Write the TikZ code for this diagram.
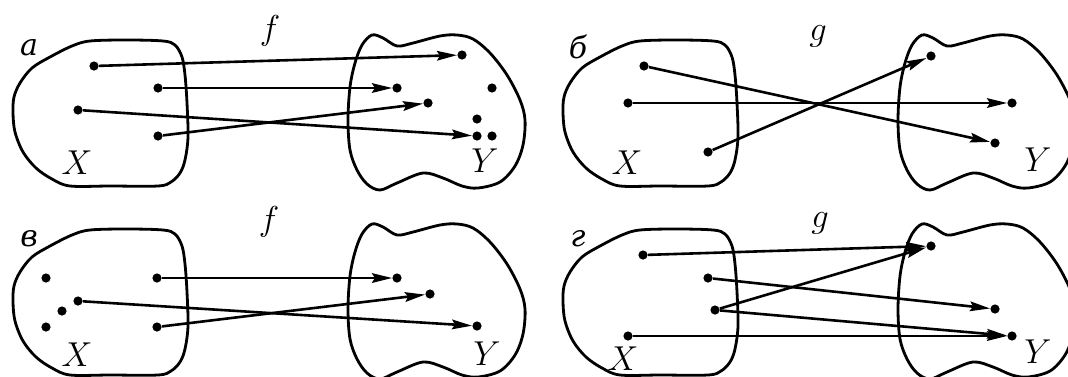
\documentclass[tikz,border=0pt]{standalone}
\usepackage{fontspec}
\newfontfamily\cyrfont{DejaVu Serif}
\usetikzlibrary{arrows.meta}

\begin{document}
\begin{tikzpicture}[x=0.5pt,y=-0.5pt,
    dot/.style={circle,fill,inner sep=0pt,minimum size=4.6pt},
    arrow/.style={-{Stealth[length=10pt,width=4.8pt,inset=1.5pt]},line width=1.3pt},
    blob/.style={line width=1.4pt,line join=round},
    lbl/.style={inner sep=0pt,font=\fontsize{19}{22}\selectfont},
    tag/.style={inner sep=0pt,font=\fontsize{15}{18}\selectfont\cyrfont\itshape},
    xset/.pic={\draw[blob] plot[smooth cycle,tension=0.55] coordinates {
        (13,113) (14,97) (20,83) (32,68) (50,57) (72,46) (90,41) (127,40) (163,41)
        (175,45) (182,57) (185,75) (187,103) (188,137) (185,160) (180,173) (171,182)
        (158,186) (110,186) (70,186) (52,179) (36,168) (23,152) (15,132)};},
    yset/.pic={\draw[blob] plot[smooth cycle,tension=0.55] coordinates {
        (355,63) (362,45) (372,35) (383,38) (397,46) (413,43) (440,36) (457,35)
        (473,39) (490,53) (507,75) (520,100) (525,120) (523,145) (515,166) (500,182)
        (478,188) (462,186) (443,178) (423,173) (397,183) (380,190) (367,184)
        (357,170) (350,150) (348,120) (350,87)};}]
  \useasboundingbox (0,0) rectangle (1068,376);
  % the four pairs of sets
  \pic at (0,0) {xset};   \pic at (0,0) {yset};
  \pic at (550,0) {xset}; \pic at (550,0) {yset};
  \pic at (0,189) {xset};   \pic at (0,189) {yset};
  \pic at (550,189) {xset}; \pic at (550,189) {yset};

  % panel a
  \node[tag] (tag-a) at (29,48) {а};
  \node[lbl] (fa) at (270,31) {$f$};
  \node[lbl] (xa) at (77,163) {$X$};
  \node[lbl] (ya) at (485,161) {$Y$};
  \node[dot] (a1) at (94,66) {};
  \node[dot] (a2) at (158,88) {};
  \node[dot] (a3) at (78,110) {};
  \node[dot] (a4) at (158,136) {};
  \node[dot] (ay1) at (462,55) {};
  \node[dot] (ay2) at (397,88) {};
  \node[dot] (ay3) at (428,103) {};
  \node[dot] (ay4) at (492,88) {};
  \node[dot] (ay5) at (477,119) {};
  \node[dot] (ay6) at (477,136) {};
  \node[dot] (ay7) at (492,136) {};
  \draw[arrow] (a1)--(ay1); \draw[arrow] (a2)--(ay2);
  \draw[arrow] (a3)--(ay6); \draw[arrow] (a4)--(ay3);

  % panel b
  \node[tag] (tag-b) at (578,47) {б};
  \node[lbl] (gb) at (818,36) {$g$};
  \node[lbl] (xb) at (627,163) {$X$};
  \node[lbl] (yb) at (1038,160) {$Y$};
  \node[dot] (b1) at (644,66) {};
  \node[dot] (b2) at (628,103) {};
  \node[dot] (b3) at (708,152) {};
  \node[dot] (by1) at (931,56) {};
  \node[dot] (by2) at (1012,103) {};
  \node[dot] (by3) at (995,143) {};
  \draw[arrow] (b1)--(by3); \draw[arrow] (b2)--(by2); \draw[arrow] (b3)--(by1);

  % panel v
  \node[tag] (tag-v) at (29,239) {в};
  \node[lbl] (fv) at (269,222) {$f$};
  \node[lbl] (xv) at (77,355) {$X$};
  \node[lbl] (yv) at (487,354) {$Y$};
  \node[dot] (v1) at (46,278) {};
  \node[dot] (v2) at (78,301) {};
  \node[dot] (v3) at (62,311) {};
  \node[dot] (v4) at (46,327) {};
  \node[dot] (v5) at (157,278) {};
  \node[dot] (v6) at (157,327) {};
  \node[dot] (vy1) at (397,278) {};
  \node[dot] (vy2) at (430,294) {};
  \node[dot] (vy3) at (477,326) {};
  \draw[arrow] (v5)--(vy1); \draw[arrow] (v2)--(vy3); \draw[arrow] (v6)--(vy2);

  % panel g
  \node[tag] (tag-g) at (578,239) {г};
  \node[lbl] (gg) at (820,223) {$g$};
  \node[lbl] (xg) at (623,359) {$X$};
  \node[lbl] (yg) at (1038,352) {$Y$};
  \node[dot] (g1) at (643,255) {};
  \node[dot] (g2) at (708,278) {};
  \node[dot] (g3) at (715,310) {};
  \node[dot] (g4) at (628,336) {};
  \node[dot] (gy1) at (931,246) {};
  \node[dot] (gy2) at (995,309) {};
  \node[dot] (gy3) at (1012,336) {};
  \draw[arrow] (g1)--(gy1); \draw[arrow] (g2)--(gy2); \draw[arrow] (g3)--(gy1);
  \draw[arrow] (g3)--(gy3); \draw[arrow] (g4)--(gy3);
\end{tikzpicture}
\end{document}
